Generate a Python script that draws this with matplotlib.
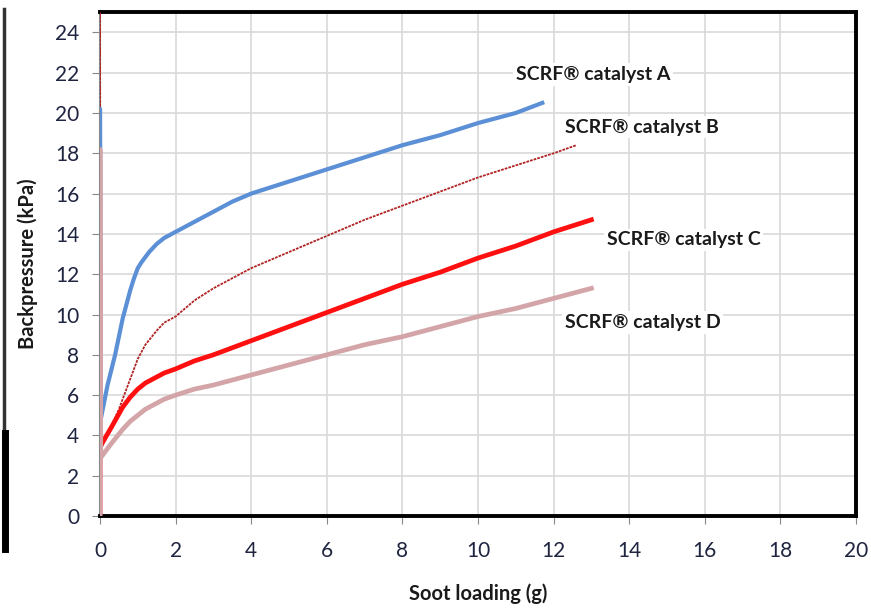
import matplotlib.pyplot as plt
from matplotlib.lines import Line2D

plt.rcParams['font.family'] = ['Lato', 'DejaVu Sans']

# soot loading (g) vs backpressure (kPa)
a_x = [0, 0, 0.02, 0.2, 0.4, 0.6, 0.8, 0.9, 1.0, 1.1, 1.3, 1.5, 1.7, 2, 2.2, 2.7, 3, 3.5, 4, 5, 6, 7, 8, 9, 10, 11, 11.7]
a_y = [0, 20.2, 4.8, 6.5, 8.0, 9.8, 11.2, 11.8, 12.3, 12.6, 13.1, 13.5, 13.8, 14.1, 14.3, 14.8, 15.1, 15.6, 16.0, 16.6, 17.2, 17.8, 18.4, 18.9, 19.5, 20.0, 20.5]

b_x = [0, 0, 0.02, 0.5, 0.8, 1.0, 1.2, 1.5, 1.7, 2, 2.5, 3, 3.5, 4, 5, 6, 7, 8, 9, 10, 11, 12, 12.6]
b_y = [0, 25, 3.3, 5.3, 6.8, 7.8, 8.5, 9.2, 9.6, 9.9, 10.7, 11.3, 11.8, 12.3, 13.1, 13.9, 14.7, 15.4, 16.1, 16.8, 17.4, 18.0, 18.4]

c_x = [0, 0, 0.02, 0.3, 0.6, 0.8, 1.0, 1.2, 1.5, 1.7, 2, 2.5, 3, 4, 5, 6, 7, 8, 9, 10, 11, 12, 13.0]
c_y = [0, 3.5, 3.5, 4.4, 5.4, 5.9, 6.3, 6.6, 6.9, 7.1, 7.3, 7.7, 8.0, 8.7, 9.4, 10.1, 10.8, 11.5, 12.1, 12.8, 13.4, 14.1, 14.7]

d_x = [0, 0, 0.02, 0.3, 0.6, 0.8, 1.0, 1.2, 1.5, 1.7, 2, 2.5, 3, 4, 5, 6, 7, 8, 9, 10, 11, 12, 13.0]
d_y = [0, 18.2, 2.9, 3.6, 4.3, 4.7, 5.0, 5.3, 5.6, 5.8, 6.0, 6.3, 6.5, 7.0, 7.5, 8.0, 8.5, 8.9, 9.4, 9.9, 10.3, 10.8, 11.3]

labels = ["SCRF® catalyst A", "SCRF® catalyst B", "SCRF® catalyst C", "SCRF® catalyst D"]
label_pos = [(11.0, 21.9), (12.3, 19.3), (13.4, 13.7), (12.3, 9.6)]

fig = plt.figure(figsize=(8.71, 6.1), dpi=100)
ax = fig.add_axes([0.1148, 0.154, 0.868, 0.826])

ax.plot(b_x, b_y, color='#B22222', lw=1.3, ls=(0, (1.5, 0.6)), zorder=3)
ax.plot(a_x, a_y, color='#5B8FD6', lw=3, zorder=3)
ax.plot(c_x, c_y, color='#FF1010', lw=3.4, zorder=3)
ax.plot(d_x, d_y, color='#D4A5A8', lw=3.4, zorder=4)

for txt, (x, y) in zip(labels, label_pos):
    ax.text(x, y, txt, fontsize=14, fontweight='bold', color='#1a1a1a', va='center',
            bbox=dict(facecolor='white', edgecolor='none', pad=2), zorder=5)

ax.set_xlim(0, 20)
ax.set_ylim(0, 25)
ax.set_xticks(range(0, 21, 2))
ax.set_yticks(range(0, 25, 2))
ax.grid(True, color='#D9D9D9', lw=1.2)
ax.set_axisbelow(True)
ax.tick_params(axis='both', direction='out', length=6, color='#888888', labelsize=15,
               labelcolor='#1f2440')
ax.tick_params(axis='y', pad=9)
ax.tick_params(axis='x', pad=12)

for s in ['top', 'right', 'bottom']:
    ax.spines[s].set_color('black')
    ax.spines[s].set_linewidth(2.8)
ax.spines['left'].set_color('#888888')
ax.spines['left'].set_linewidth(1.5)

ax.set_xlabel("Soot loading (g)", fontsize=14.5, fontweight='bold', color='#1a1a1a', labelpad=16)
ax.set_ylabel("Backpressure (kPa)", fontsize=14.5, fontweight='bold', color='#1a1a1a', labelpad=12)

# border of a neighbouring figure cut off on the left edge
fig.add_artist(Line2D([0.005, 0.005], [0.10, 0.985], color='#333333', lw=2.5))
fig.add_artist(Line2D([0.006, 0.006], [0.10, 0.29], color='black', lw=5))

fig.savefig("out.png", dpi=100)
